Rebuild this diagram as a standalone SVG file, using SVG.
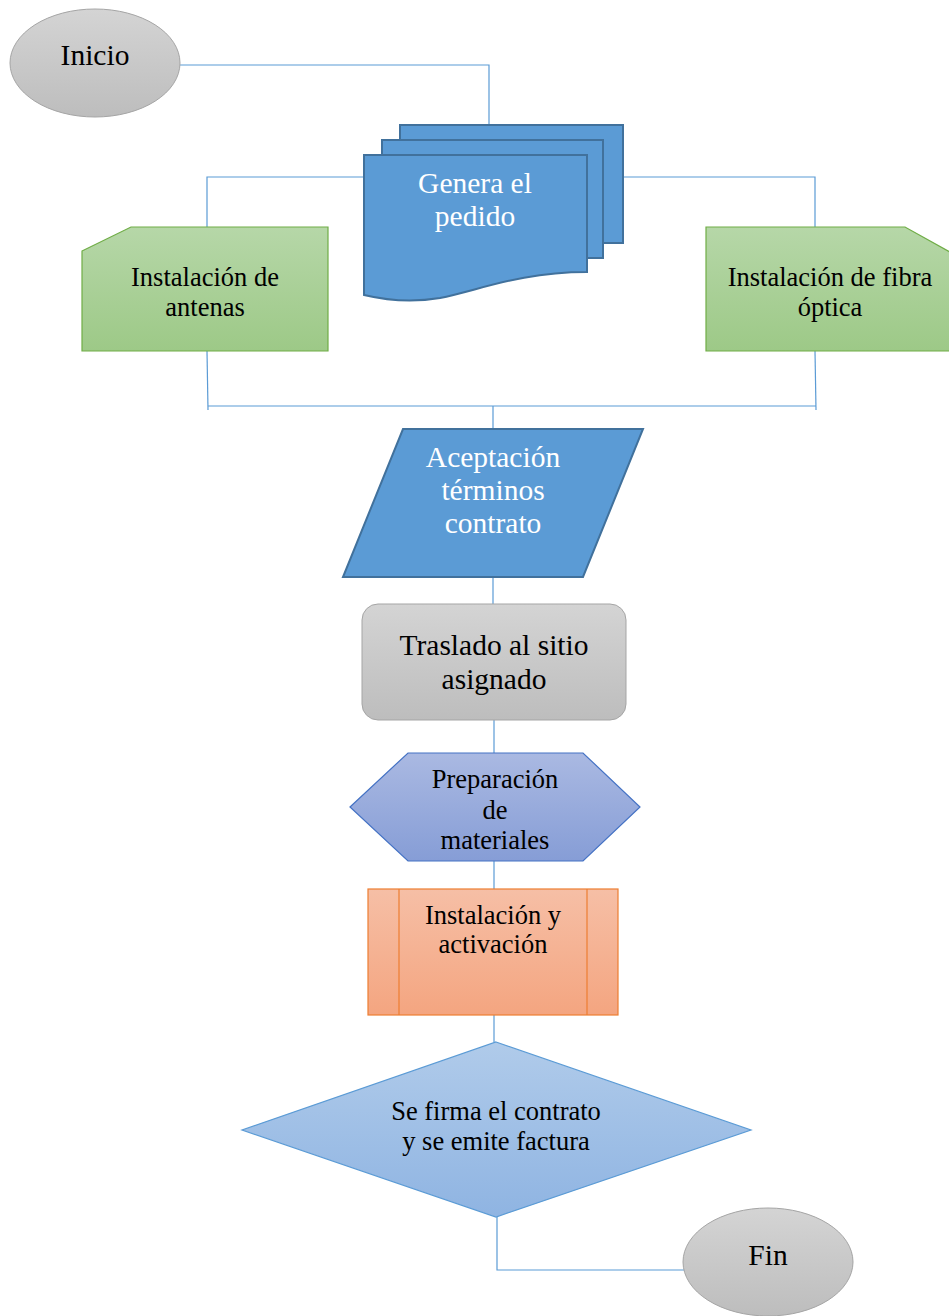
<svg xmlns="http://www.w3.org/2000/svg" width="949" height="1316" viewBox="0 0 949 1316">
<defs>
<linearGradient id="gGray" x1="0" y1="0" x2="0" y2="1"><stop offset="0" stop-color="#D4D4D4"/><stop offset="1" stop-color="#BDBDBD"/></linearGradient>
<linearGradient id="gGreen" x1="0" y1="0" x2="0" y2="1"><stop offset="0" stop-color="#B6D7A8"/><stop offset="1" stop-color="#9DC987"/></linearGradient>
<linearGradient id="gHex" x1="0" y1="0" x2="0" y2="1"><stop offset="0" stop-color="#AAB9E2"/><stop offset="1" stop-color="#869DD6"/></linearGradient>
<linearGradient id="gOrange" x1="0" y1="0" x2="0" y2="1"><stop offset="0" stop-color="#F6BFA6"/><stop offset="1" stop-color="#F4A580"/></linearGradient>
<linearGradient id="gDiamond" x1="0" y1="0" x2="0" y2="1"><stop offset="0" stop-color="#B0CBEA"/><stop offset="1" stop-color="#8FB4E2"/></linearGradient>
</defs>
<style>
.conn{fill:none;stroke:#5B9BD5;stroke-width:1.2}
text{font-family:"Liberation Serif","Times New Roman",serif;text-anchor:middle;fill:#000}
.w{fill:#fff}
.big{font-size:29.5px}
.mid{font-size:26.5px}
.blue{fill:#5B9BD5;stroke:#41719C;stroke-width:2}
</style>
<g id="connectors">
<polyline class="conn" points="180,65 489,65 489,125"/>
<polyline class="conn" points="364,177 207,177 207,227"/>
<polyline class="conn" points="623,177 815,177 815,227"/>
<polyline class="conn" points="207,351 208,410"/>
<polyline class="conn" points="815,351 816,410"/>
<polyline class="conn" points="208,406 816,406"/>
<polyline class="conn" points="493,406 493,429"/>
<polyline class="conn" points="493,577 493,604"/>
<polyline class="conn" points="494,720 494,753"/>
<polyline class="conn" points="494,861 494,889"/>
<polyline class="conn" points="494,1015 494,1042"/>
<polyline class="conn" points="497,1217 497,1270 688,1270"/>
</g>
<g id="inicio">
<ellipse cx="95" cy="63" rx="85" ry="54" fill="url(#gGray)" stroke="#A5A5A5" stroke-width="1"/>
<text class="big" x="95" y="65">Inicio</text>
</g>
<g id="genera">
<rect class="blue" x="400" y="125" width="223" height="118"/>
<rect class="blue" x="382" y="140" width="221" height="118"/>
<path class="blue" d="M364,155 L587,155 L587,272 C520,272 480,290 440,298 C410,303 385,300 364,295 Z"/>
<text class="big w" x="475" y="193">Genera el</text>
<text class="big w" x="475" y="226">pedido</text>
</g>
<g id="antenas">
<polygon points="82,251 131,227 328,227 328,351 82,351" fill="url(#gGreen)" stroke="#70AD47" stroke-width="1.2"/>
<text class="mid" x="205" y="286">Instalación de</text>
<text class="mid" x="205" y="316">antenas</text>
</g>
<g id="fibra">
<polygon points="706,227 905,227 950,252 950,351 706,351" fill="url(#gGreen)" stroke="#70AD47" stroke-width="1.2"/>
<text class="mid" x="830" y="286">Instalación de fibra</text>
<text class="mid" x="830" y="316">óptica</text>
</g>
<g id="aceptacion">
<polygon class="blue" points="403,429 643,429 583,577 343,577"/>
<text class="big w" x="493" y="467">Aceptación</text>
<text class="big w" x="493" y="500">términos</text>
<text class="big w" x="493" y="533">contrato</text>
</g>
<g id="traslado">
<rect x="362" y="604" width="264" height="116" rx="16" ry="16" fill="url(#gGray)" stroke="#A5A5A5" stroke-width="1"/>
<text class="big" x="494" y="655">Traslado al sitio</text>
<text class="big" x="494" y="689">asignado</text>
</g>
<g id="preparacion">
<polygon points="350,807 408,753 583,753 640,807 583,861 408,861" fill="url(#gHex)" stroke="#4472C4" stroke-width="1.2"/>
<text class="mid" x="495" y="788">Preparación</text>
<text class="mid" x="495" y="819">de</text>
<text class="mid" x="495" y="849">materiales</text>
</g>
<g id="instalacion">
<rect x="368" y="889" width="250" height="126" fill="url(#gOrange)" stroke="#ED7D31" stroke-width="1.2"/>
<line x1="399" y1="889" x2="399" y2="1015" stroke="#ED7D31" stroke-width="1.2"/>
<line x1="587" y1="889" x2="587" y2="1015" stroke="#ED7D31" stroke-width="1.2"/>
<text class="mid" x="493" y="924">Instalación y</text>
<text class="mid" x="493" y="953">activación</text>
</g>
<g id="firma">
<polygon points="496,1042 751,1130 496,1217 242,1130" fill="url(#gDiamond)" stroke="#5B9BD5" stroke-width="1.2"/>
<text class="mid" x="496" y="1120">Se firma el contrato</text>
<text class="mid" x="496" y="1150">y se emite factura</text>
</g>
<g id="fin">
<ellipse cx="768" cy="1262" rx="85" ry="54" fill="url(#gGray)" stroke="#A5A5A5" stroke-width="1"/>
<text class="big" x="768" y="1265">Fin</text>
</g>
</svg>
